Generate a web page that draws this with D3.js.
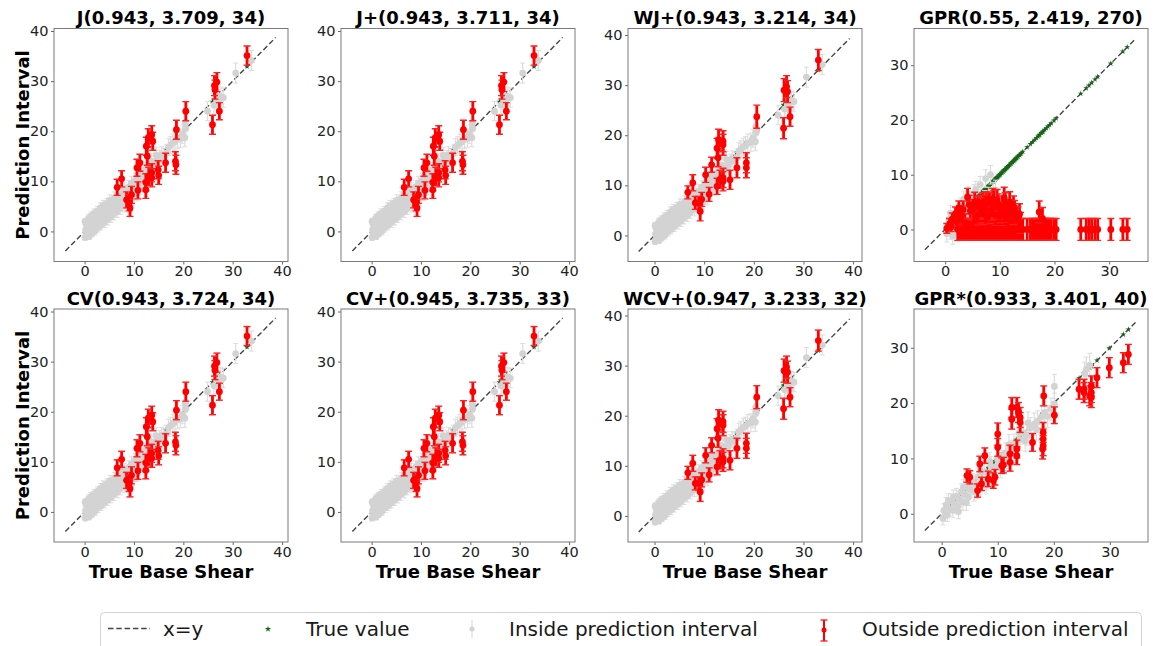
<!DOCTYPE html>
<html>
<head>
<meta charset="utf-8">
<script src="https://cdn.jsdelivr.net/npm/d3@7"></script>
<style>
  body { margin: 0; background: #fff; }
  svg text { font-family: "DejaVu Sans", sans-serif; }
</style>
</head>
<body>
<script>
// panel titles, left to right, top to bottom
const titles = ['J(0.943, 3.709, 34)', 'J+(0.943, 3.711, 34)', 'WJ+(0.943, 3.214, 34)', 'GPR(0.55, 2.419, 270)',
                'CV(0.943, 3.724, 34)', 'CV+(0.945, 3.735, 33)', 'WCV+(0.947, 3.233, 32)', 'GPR*(0.933, 3.401, 40)'];

const ticks40 = [0, 10, 20, 30, 40];
const ticks30 = [0, 10, 20, 30];

// [true, predicted, half width] - points inside the interval, conformal panels
const grayJ = [
  [0.1,-1.2,0.6],[0.2,0.3,0.8],[0.3,1.5,0.7],[0.1,2.0,0.6],[0.5,-0.6,0.7],[0.6,0.8,0.9],[0.8,2.6,0.8],[0.9,-1.0,0.6],
  [1.1,0.2,0.9],[1.2,1.6,0.9],[1.3,3.1,0.8],[1.5,-0.4,0.7],[1.6,0.9,1.0],[1.8,2.2,0.9],[1.9,3.6,0.9],[2.1,0.1,0.8],
  [2.2,1.4,1.0],[2.4,2.8,1.0],[2.6,4.1,0.9],[2.7,0.8,0.9],[2.9,2.0,1.1],[3.0,3.4,1.0],[3.2,4.7,1.0],[3.3,1.2,0.9],
  [3.5,2.6,1.1],[3.7,3.9,1.1],[3.8,5.2,1.0],[4.0,1.8,1.0],[4.2,3.2,1.2],[4.3,4.5,1.1],[4.5,5.6,1.0],[4.7,2.4,1.1],
  [4.8,3.8,1.2],[5.0,5.0,1.2],[5.1,6.2,1.1],[5.3,2.9,1.1],[5.5,4.3,1.2],[5.7,5.6,1.2],[5.9,3.5,1.2],[6.0,6.7,1.2],
  [6.2,4.9,1.3],[6.4,6.0,1.2],[6.6,4.0,1.2],[6.7,7.3,1.2],[6.9,5.4,1.3],[7.1,6.6,1.3],[7.2,4.6,1.2],[7.4,7.9,1.3],
  [7.6,5.9,1.3],[7.8,7.1,1.3],[8.0,5.2,1.3],[8.1,8.4,1.3],[8.3,6.5,1.3],[8.5,7.6,1.4],[8.8,5.9,1.3],[8.9,8.9,1.3],
  [9.1,7.0,1.4],[9.3,8.2,1.4],[9.5,9.6,1.4],[9.7,6.6,1.4],[9.9,7.8,1.4],[10.0,9.0,1.4],[10.2,10.2,1.4],[10.4,8.4,1.4],
  [10.6,7.5,1.4],[10.8,9.6,1.5],[11.0,11.0,1.4],[11.2,8.9,1.5],[11.4,10.3,1.5],[11.6,11.8,1.5],[11.9,9.4,1.5],
  [12.1,10.9,1.5],[12.3,12.4,1.5],[12.6,10.0,1.5],[12.8,11.7,1.5],[13.1,13.1,1.5],[13.3,12.3,1.6],[13.6,14.0,1.6],
  [13.9,12.0,1.6],[14.2,13.5,1.6],[14.5,15.2,1.6],[14.8,13.9,1.6],[15.2,14.6,1.6],[15.6,15.3,1.6],[16.1,14.9,1.7],
  [16.6,15.6,1.7],[17.0,16.8,1.7],[17.4,17.2,1.7],[17.9,17.7,1.7],[18.3,17.9,1.8],[18.8,18.4,1.8],[19.4,18.6,1.8],
  [19.8,19.4,1.8],[20.3,18.7,1.8],[20.5,20.6,1.8],[20.4,21.7,1.8],[24.9,24.0,1.9],[26.2,25.2,1.9],[26.8,26.3,1.9],
  [27.2,25.6,1.9],[27.6,26.9,1.9],[28.1,26.7,1.9],[30.6,31.6,2.0],[33.8,34.1,2.0],
  [0.4,-0.2,0.7],[1.0,1.2,0.8],[2.0,2.9,0.9],[3.1,1.9,1.0],[4.4,3.9,1.1],[5.8,4.9,1.2],[7.0,6.1,1.3],[8.4,7.1,1.3]
];

// points outside the interval, jackknife / cv panels
const redJ = [
  [32.9,35.1,1.9],[26.3,29.1,2.0],[26.8,29.8,1.9],[26.4,28.3,1.9],[25.9,21.3,1.9],[27.3,24.0,1.7],[20.5,24.0,1.9],
  [18.6,20.3,1.9],[18.4,14.0,1.9],[18.5,13.3,1.9],[16.4,13.7,1.9],[14.9,12.3,1.8],[13.6,11.7,1.8],[13.6,10.7,1.8],
  [12.9,18.7,1.8],[13.8,18.0,1.8],[13.6,19.3,1.8],[12.5,17.0,1.8],[12.7,15.0,1.8],[11.2,13.7,1.7],[10.6,12.7,1.7],
  [12.4,9.8,1.7],[12.4,8.3,1.7],[10.8,8.2,1.7],[9.5,7.3,1.7],[8.5,6.3,1.6],[9.0,5.7,1.6],[9.2,4.7,1.7],[6.6,8.8,1.6],
  [7.5,10.5,1.6],[13.0,11.0,1.8],[15.0,11.2,1.8]
];

// weighted panels
const redW = [
  [33.0,35.0,2.1],[26.1,29.0,2.3],[26.6,29.7,2.2],[26.8,28.7,2.2],[26.0,21.4,2.1],[27.3,23.7,1.9],[20.6,23.7,2.3],
  [18.5,14.5,2.0],[18.5,13.5,2.0],[16.6,13.5,2.0],[15.2,11.1,1.9],[13.8,10.8,1.9],[13.8,11.5,1.9],[12.9,19.1,2.1],
  [13.8,18.8,2.1],[13.8,18.1,2.1],[12.6,17.4,2.0],[11.5,14.1,1.5],[10.3,12.1,1.5],[12.6,9.8,1.6],[11.0,8.2,1.4],
  [9.5,7.2,1.4],[8.2,6.5,1.3],[8.9,6.5,1.3],[9.2,4.8,1.9],[6.7,8.6,1.3],[7.7,10.5,1.6],[12.8,15.5,1.8],[13.2,11.2,1.8]
];

const grayGPR = [
  [0.3,-0.8,1.5],[0.5,0.6,1.4],[0.9,-0.2,1.6],[1.2,1.5,1.5],[1.0,3.0,1.4],[1.6,0.5,1.6],[1.8,2.4,1.5],[2.2,-0.5,1.6],
  [2.4,1.4,1.6],[2.6,3.2,1.5],[2.9,4.3,1.4],[3.1,2.2,1.6],[3.3,0.6,1.7],[3.6,3.6,1.6],[3.9,4.9,1.5],[4.1,2.8,1.7],
  [4.4,4.2,1.6],[4.7,5.5,1.5],[5.0,3.4,1.7],[5.3,6.6,1.6],[5.6,7.3,1.5],[5.9,4.3,1.7],[6.2,4.3,1.6],[6.4,8.2,1.5],
  [6.9,5.0,1.7],[7.2,5.4,1.7],[7.4,9.3,1.6],[8.0,5.9,1.8],[8.3,10.0,1.7],[8.8,6.8,1.8],[9.2,7.2,1.8],
  [1.4,-1.2,1.5],[0.7,1.8,1.4],[2.7,3.0,1.5],[3.4,5.6,1.4],[4.2,6.4,1.4]
];

const redGPR = [
  [0.3,0.2,0.9],[0.8,1.0,1.0],[1.3,1.9,1.1],[1.9,2.9,1.2],[2.5,3.9,1.3],[1.1,0.5,0.9],[2.0,1.5,1.1],
  [2.3,0,2],[2.6,0,2],[2.9,0,2],[3.25,0,2],[3.6,0,2],[3.9,0,2],[4.2,0,2],[4.5,0,2],[4.8,0,2],[5.05,0,2],[5.3,0,2],
  [5.55,0,2],[5.8,0,2],[6.05,0,2],[6.3,0,2],[6.55,0,2],[6.8,0,2],[7.05,0,2],[7.3,0,2],[7.55,0,2],[7.8,0,2],
  [8.05,0,2],[8.3,0,2],[8.55,0,2],[8.8,0,2],[9.05,0,2],[9.3,0,2],[9.55,0,2],[9.8,0,2],[10.05,0,2],[10.3,0,2],
  [10.55,0,2],[10.8,0,2],[11.05,0,2],[11.3,0,2],[11.55,0,2],[11.8,0,2],[12.05,0,2],[12.3,0,2],[12.55,0,2],
  [12.8,0,2],[13.05,0,2],[13.3,0,2],[13.6,0,2],[13.9,0,2],[14.2,0,2],[15.0,0,2],[15.6,0,2],[16.0,0,2],[16.4,0,2],
  [16.7,0,2],[17.0,0,2],[17.3,0,2],[17.6,0,2],[17.9,0,2],[18.2,0,2],[18.5,0,2],[18.8,0,2],[19.1,0,2],[19.4,0,2],
  [19.9,0,2],[20.3,0,2],[24.8,0,2],[25.8,0,2],[26.3,0,2],[26.8,0,2],[27.4,0,2],[27.9,0,2],[30.3,0,2],[32.5,0,2],
  [33.3,0,2],
  [2.2,1.6,1.6],[3.0,2.4,1.6],[3.6,1.2,1.7],[4.1,5.9,1.6],[4.6,3.4,1.7],[5.1,3.7,1.8],[5.6,1.8,1.8],[6.0,4.2,1.8],
  [6.5,3.0,1.8],[6.9,4.9,1.8],[7.3,4.4,1.9],[7.7,2.2,1.9],[8.1,4.8,1.9],[8.5,3.6,1.9],[8.9,5.2,1.9],[9.3,2.6,1.9],
  [9.7,4.6,1.9],[10.1,3.1,1.9],[10.8,5.8,1.9],[11.2,2.0,1.9],[11.6,3.6,1.9],[12.0,1.6,1.9],[12.5,4.2,1.9],
  [12.9,2.4,1.9],[13.3,2.2,1.9],[13.8,1.2,1.9],[17.2,3.2,2.0],[17.8,2.0,2.0],
  [2.6,2.8,1.6],[3.3,3.6,1.6],[4.4,4.5,1.7],[5.4,5.0,1.8],[5.9,2.6,1.8],[6.2,4.4,1.8],[6.7,4.0,1.8],[7.1,2.8,1.9],
  [7.5,5.0,1.9],[7.9,4.9,1.9],[8.3,3.0,1.9],[8.7,5.6,1.9],[9.1,4.0,1.9],[9.5,5.4,1.9],[9.9,2.4,1.9],[10.4,4.2,1.9],
  [10.6,2.6,1.9],[11.0,4.8,1.9],[11.4,3.2,1.9],[11.8,5.0,1.9],[12.3,2.8,1.9],[12.7,3.4,1.9],[13.1,1.8,1.9],
  [13.6,2.8,1.9]
];

const grayGPRs = [
  [0.2,-0.8,1.2],[0.4,0.6,1.2],[0.8,1.6,1.3],[1.0,-0.2,1.2],[1.4,0.9,1.3],[1.7,2.3,1.3],[2.0,0.6,1.3],[2.3,1.8,1.4],
  [2.6,3.2,1.4],[2.9,1.3,1.4],[3.2,2.6,1.4],[3.5,4.0,1.4],[3.8,2.1,1.5],[4.1,3.5,1.5],[4.5,4.9,1.5],[4.8,3.0,1.5],
  [5.1,4.4,1.5],[5.5,5.8,1.5],[5.8,3.9,1.6],[6.1,5.3,1.6],[6.5,6.7,1.6],[6.9,5.0,1.6],[7.2,6.3,1.6],[7.6,7.6,1.6],
  [8.0,6.0,1.7],[8.4,7.3,1.7],[8.8,8.6,1.7],[9.2,7.1,1.7],[9.6,8.4,1.7],[10.0,9.7,1.7],[10.5,8.3,1.8],[10.9,9.6,1.8],
  [11.4,11.0,1.8],[11.9,10.0,1.8],[12.4,11.5,1.8],[12.9,12.6,1.8],[13.5,12.0,1.9],[14.0,13.4,1.9],[14.6,14.5,1.9],
  [15.2,14.2,1.9],[15.8,15.5,1.9],[16.5,16.2,2.0],[17.1,16.6,2.0],[17.8,17.5,2.0],[18.4,18.3,2.0],[18.9,17.6,2.0],
  [19.5,18.9,2.0],[20.1,19.8,2.0],[20.1,23.0,2.2],[25.8,26.1,2.2],[26.4,26.8,2.2],[25.5,25.3,2.1],
  [0.6,-0.3,1.1],[1.2,2.4,1.2],[2.1,3.0,1.3],[3.0,0.4,1.3],[3.9,4.8,1.4],[4.4,2.0,1.4],[5.3,6.2,1.5],[6.3,4.2,1.5],
  [7.0,7.8,1.6],[7.9,5.2,1.6],[8.6,9.4,1.7],[9.4,6.8,1.7],[10.3,10.6,1.8],[11.2,9.0,1.8],[12.0,12.5,1.8],
  [13.1,11.0,1.9],[13.8,14.6,1.9],[14.9,13.2,1.9],[15.4,16.4,2.0],[16.9,15.3,2.0]
];

const redGPRs = [
  [33.3,28.8,1.8],[32.4,27.3,1.8],[29.9,26.4,1.8],[27.7,24.6,1.8],[26.7,23.1,1.8],[26.7,21.9,1.8],[26.7,21.0,1.8],
  [26.4,21.3,1.8],[25.4,22.5,1.8],[25.4,21.9,1.8],[24.5,22.5,1.8],[20.1,17.8,1.5],[18.2,21.3,1.8],[18.1,14.7,1.8],
  [18.1,13.5,1.8],[18.1,12.3,1.8],[18.0,11.7,1.8],[16.2,12.9,1.6],[14.0,17.4,1.8],[14.0,16.5,1.8],[13.7,18.3,1.8],
  [13.4,19.2,1.8],[12.5,19.2,1.8],[12.5,17.1,1.8],[13.4,11.7,1.6],[13.4,10.5,1.6],[12.2,10.8,1.6],[12.2,9.3,1.6],
  [10.7,8.7,1.4],[10.0,14.4,2.0],[10.0,12.0,1.6],[9.5,6.6,1.4],[9.2,6.0,1.4],[8.3,6.3,1.4],[7.7,10.5,1.4],
  [6.8,9.0,1.4],[7.1,5.4,1.2],[6.4,4.2,1.2],[4.5,6.9,1.2],[5.0,6.6,1.2],[11.0,8.8,1.4]
];

const legendLabels = ['x=y', 'True value', 'Inside prediction interval', 'Outside prediction interval'];

const W = 1153, H = 646;
const boxW = 234, boxH = 233;
const colLeft = [54, 341, 628, 914];
const rowTop = [28.5, 309];

const svg = d3.select('body').append('svg')
    .attr('width', W)
    .attr('height', H);

svg.append('rect').attr('width', W).attr('height', H).attr('fill', '#fff');

const jDom = {xd: [-6.2, 41.2], yd: [-6.0, 40.5], ld: [-3.9, 38.7], ticks: ticks40};
const wDom = {xd: [-5.35, 41.8], yd: [-5.2, 41.3], ld: [-3.2, 39.3], ticks: ticks40};

const panels = [
  Object.assign({gray: grayJ, red: redJ}, jDom),
  Object.assign({gray: grayJ, red: redJ}, jDom),
  Object.assign({gray: grayJ, red: redW}, wDom),
  {gray: grayGPR, red: redGPR, xd: [-5.7, 37.1], yd: [-5.85, 36.7], ld: [-3.7, 34.9], ticks: ticks30},
  Object.assign({gray: grayJ, red: redJ}, jDom),
  Object.assign({gray: grayJ, red: redJ}, jDom),
  Object.assign({gray: grayJ, red: redW}, wDom),
  {gray: grayGPRs, red: redGPRs, xd: [-4.94, 36.8], yd: [-5.1, 37.0], ld: [-3.0, 34.8], ticks: ticks30}
];

const star = d3.symbol().type(d3.symbolStar);

panels.forEach((p, i) => {
  const col = i % 4, row = Math.floor(i / 4);
  const left = colLeft[col], top = rowTop[row];

  const x = d3.scaleLinear().domain(p.xd).range([left, left + boxW]);
  const y = d3.scaleLinear().domain(p.yd).range([top + boxH, top]);

  svg.append('clipPath').attr('id', 'clip' + i)
    .append('rect').attr('x', left).attr('y', top).attr('width', boxW).attr('height', boxH);

  const g = svg.append('g').attr('clip-path', `url(#clip${i})`);

  // true values, under everything else
  g.selectAll('path.tv').data(p.red).enter().append('path')
    .attr('class', 'tv')
    .attr('d', star.size(11))
    .attr('transform', d => `translate(${x(d[0])},${y(d[0])})`)
    .attr('fill', '#0a6e0a');

  // x = y reference line
  g.append('line')
    .attr('x1', x(p.ld[0])).attr('y1', y(p.ld[0]))
    .attr('x2', x(p.ld[1])).attr('y2', y(p.ld[1]))
    .attr('stroke', '#444')
    .attr('stroke-width', 1.4)
    .attr('stroke-dasharray', '5.5,2.8');

  // inside interval
  const gr = g.append('g');
  gr.selectAll('line.bar').data(p.gray).enter().append('line')
    .attr('x1', d => x(d[0])).attr('x2', d => x(d[0]))
    .attr('y1', d => y(d[1] - d[2])).attr('y2', d => y(d[1] + d[2]))
    .attr('stroke', '#dcdcdc').attr('stroke-width', 1.2);
  [1, -1].forEach(s => {
    gr.selectAll(null).data(p.gray).enter().append('line')
      .attr('x1', d => x(d[0]) - 2.5).attr('x2', d => x(d[0]) + 2.5)
      .attr('y1', d => y(d[1] + s * d[2])).attr('y2', d => y(d[1] + s * d[2]))
      .attr('stroke', '#dcdcdc').attr('stroke-width', 1);
  });
  gr.selectAll('circle').data(p.gray).enter().append('circle')
    .attr('cx', d => x(d[0])).attr('cy', d => y(d[1]))
    .attr('r', 3.4).attr('fill', '#d3d3d3');

  // outside interval
  const rd = g.append('g');
  rd.selectAll('line.bar').data(p.red).enter().append('line')
    .attr('x1', d => x(d[0])).attr('x2', d => x(d[0]))
    .attr('y1', d => y(d[1] - d[2])).attr('y2', d => y(d[1] + d[2]))
    .attr('stroke', '#ff0000').attr('stroke-width', 2.8);
  [1, -1].forEach(s => {
    rd.selectAll(null).data(p.red).enter().append('line')
      .attr('x1', d => x(d[0]) - 3.5).attr('x2', d => x(d[0]) + 3.5)
      .attr('y1', d => y(d[1] + s * d[2])).attr('y2', d => y(d[1] + s * d[2]))
      .attr('stroke', '#ff2020').attr('stroke-width', 1.4);
  });
  rd.selectAll('circle').data(p.red).enter().append('circle')
    .attr('cx', d => x(d[0])).attr('cy', d => y(d[1]))
    .attr('r', 3.4).attr('fill', '#ff0000');

  // axes
  const xa = svg.append('g')
    .attr('transform', `translate(0,${top + boxH})`)
    .call(d3.axisBottom(x).tickValues(p.ticks).tickSize(3).tickPadding(1.5));
  const ya = svg.append('g')
    .attr('transform', `translate(${left},0)`)
    .call(d3.axisLeft(y).tickValues(p.ticks).tickSize(3).tickPadding(2.5));
  [xa, ya].forEach(a => {
    a.select('.domain').remove();
    a.selectAll('line').attr('stroke', '#666');
    a.selectAll('text').attr('font-size', 14.5).attr('fill', '#222')
      .attr('font-family', '"DejaVu Sans", sans-serif');
  });

  svg.append('rect')
    .attr('x', left).attr('y', top).attr('width', boxW).attr('height', boxH)
    .attr('fill', 'none').attr('stroke', '#7a7a7a').attr('stroke-width', 1);

  svg.append('text')
    .attr('x', left + boxW / 2).attr('y', top - 4.3)
    .attr('text-anchor', 'middle')
    .attr('font-size', 18).attr('font-weight', 'bold')
    .text(titles[i]);

  if (col === 0) {
    svg.append('text')
      .attr('transform', `translate(${left - 31},${top + boxH / 2}) rotate(-90)`)
      .attr('text-anchor', 'middle')
      .attr('dy', '0.35em')
      .attr('font-size', 18).attr('font-weight', 'bold')
      .text('Prediction Interval');
  }
  if (row === 1) {
    svg.append('text')
      .attr('x', left + boxW / 2).attr('y', 578)
      .attr('text-anchor', 'middle')
      .attr('font-size', 18).attr('font-weight', 'bold')
      .text('True Base Shear');
  }
});

// legend
const lg = svg.append('g');
lg.append('rect')
  .attr('x', 100.5).attr('y', 612.5).attr('width', 1041).attr('height', 50).attr('rx', 4)
  .attr('fill', '#fff').attr('stroke', '#d4d4d4');

lg.append('line').attr('x1', 108).attr('x2', 150).attr('y1', 628.5).attr('y2', 628.5)
  .attr('stroke', '#444').attr('stroke-width', 1.4).attr('stroke-dasharray', '5.5,2.8');

lg.append('path').attr('d', star.size(12)).attr('transform', 'translate(268,629)').attr('fill', '#0a6e0a');

lg.append('line').attr('x1', 472).attr('x2', 472).attr('y1', 620).attr('y2', 638)
  .attr('stroke', '#dcdcdc').attr('stroke-width', 1.2);
lg.append('circle').attr('cx', 472).attr('cy', 629).attr('r', 2.5).attr('fill', '#d3d3d3');

lg.append('line').attr('x1', 824).attr('x2', 824).attr('y1', 620).attr('y2', 641)
  .attr('stroke', '#ff0000').attr('stroke-width', 2);
[620, 641].forEach(v => lg.append('line').attr('x1', 820.5).attr('x2', 827.5).attr('y1', v).attr('y2', v)
  .attr('stroke', '#ff2020').attr('stroke-width', 1.4));
lg.append('circle').attr('cx', 824).attr('cy', 630).attr('r', 2.5).attr('fill', '#ff0000');

const legendX = [163, 306, 509, 862];
lg.selectAll('text.lbl').data(legendLabels).enter().append('text')
  .attr('class', 'lbl')
  .attr('x', (d, i) => legendX[i]).attr('y', 636)
  .attr('font-size', 20).attr('fill', '#1a1a1a')
  .text(d => d);
</script>
</body>
</html>
